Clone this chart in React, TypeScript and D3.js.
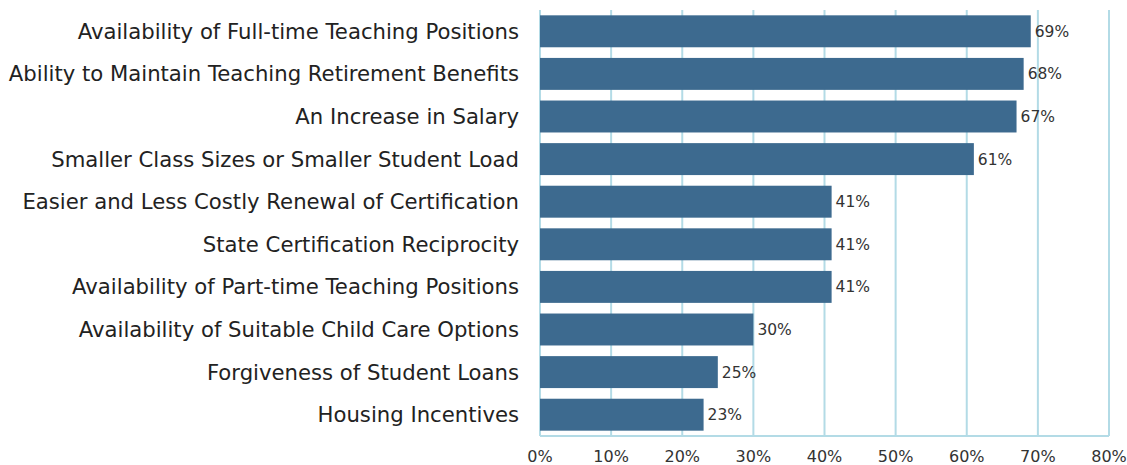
import React, { useEffect, useRef } from "react";
import * as d3 from "d3";

const categories = [
  "Availability of Full-time Teaching Positions",
  "Ability to Maintain Teaching Retirement Benefits",
  "An Increase in Salary",
  "Smaller Class Sizes or Smaller Student Load",
  "Easier and Less Costly Renewal of Certification",
  "State Certification Reciprocity",
  "Availability of Part-time Teaching Positions",
  "Availability of Suitable Child Care Options",
  "Forgiveness of Student Loans",
  "Housing Incentives",
];
const values = [69, 68, 67, 61, 41, 41, 41, 30, 25, 23];
const ticks = [0, 10, 20, 30, 40, 50, 60, 70, 80];

const FONT = "'DejaVu Sans', Verdana, sans-serif";

export default function App() {
  const svgRef = useRef<SVGSVGElement>(null);

  useEffect(() => {
    const width = 1127;
    const height = 465;
    const margin = { top: 10, right: 18, bottom: 29, left: 540 };

    const svg = d3.select(svgRef.current);
    svg.selectAll("*").remove();

    const x = d3
      .scaleLinear()
      .domain([0, 80])
      .range([margin.left, width - margin.right]);

    const y = d3
      .scaleBand()
      .domain(categories)
      .range([margin.top, height - margin.bottom])
      .paddingInner(0.25)
      .paddingOuter(0.125);

    // vertical grid lines
    svg
      .append("g")
      .selectAll("line")
      .data(ticks)
      .enter()
      .append("line")
      .attr("x1", (d) => x(d))
      .attr("x2", (d) => x(d))
      .attr("y1", margin.top)
      .attr("y2", height - margin.bottom)
      .attr("stroke", "#b3dbe6")
      .attr("stroke-width", 2);

    // bottom axis line
    svg
      .append("line")
      .attr("x1", x(0))
      .attr("x2", x(80))
      .attr("y1", height - margin.bottom)
      .attr("y2", height - margin.bottom)
      .attr("stroke", "#b3dbe6")
      .attr("stroke-width", 2);

    // bars
    svg
      .append("g")
      .selectAll("rect")
      .data(values)
      .enter()
      .append("rect")
      .attr("x", x(0))
      .attr("y", (d, i) => y(categories[i])!)
      .attr("width", (d) => x(d) - x(0))
      .attr("height", y.bandwidth())
      .attr("fill", "#3d6a8f");

    // value labels
    svg
      .append("g")
      .selectAll("text")
      .data(values)
      .enter()
      .append("text")
      .attr("x", (d) => x(d) + 4)
      .attr("y", (d, i) => y(categories[i])! + y.bandwidth() / 2)
      .attr("dy", "0.35em")
      .attr("font-family", FONT)
      .attr("font-size", 15.5)
      .attr("fill", "#333")
      .text((d) => `${d}%`);

    // category labels
    svg
      .append("g")
      .selectAll("text")
      .data(categories)
      .enter()
      .append("text")
      .attr("x", margin.left - 21)
      .attr("y", (d) => y(d)! + y.bandwidth() / 2)
      .attr("dy", "0.35em")
      .attr("text-anchor", "end")
      .attr("font-family", FONT)
      .attr("font-size", 21.2)
      .attr("fill", "#222")
      .text((d) => d);

    // tick labels
    svg
      .append("g")
      .selectAll("text")
      .data(ticks)
      .enter()
      .append("text")
      .attr("x", (d) => x(d))
      .attr("y", height - 3)
      .attr("text-anchor", "middle")
      .attr("font-family", FONT)
      .attr("font-size", 16)
      .attr("fill", "#333")
      .text((d) => `${d}%`);
  }, []);

  return (
    <div style={{ position: "fixed", left: 0, top: 0 }}>
      <svg ref={svgRef} width={1127} height={465} style={{ display: "block", background: "#fff" }}></svg>
    </div>
  );
}
